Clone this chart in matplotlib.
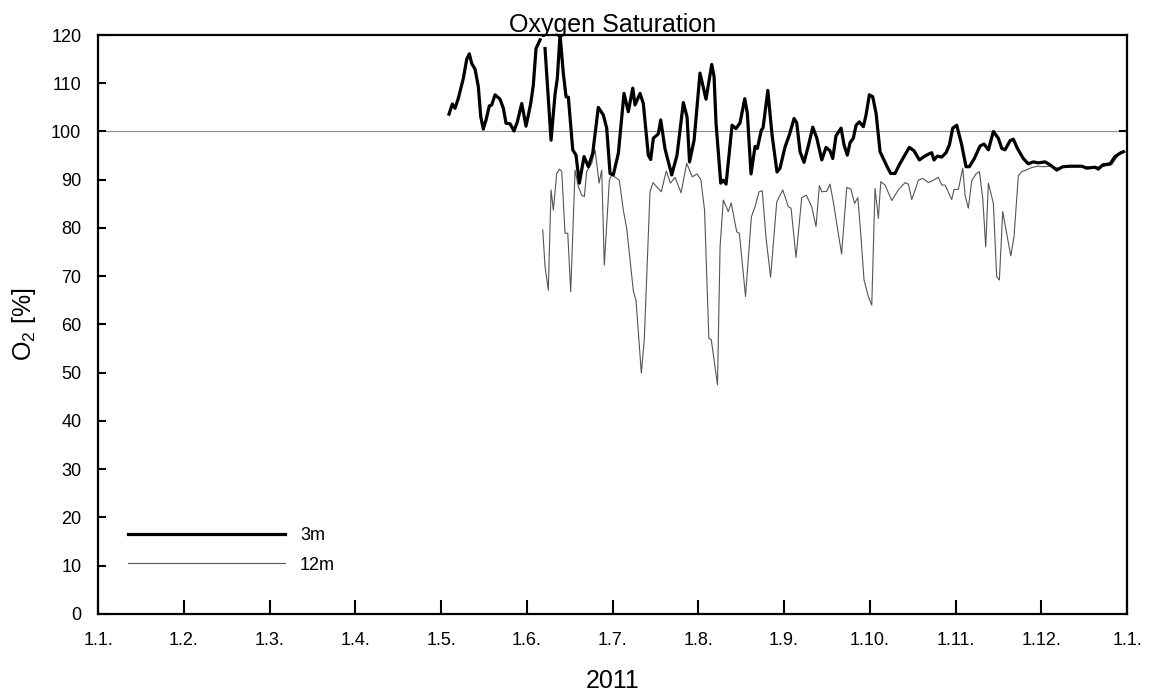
import numpy as np
import matplotlib
matplotlib.use("Agg")
import matplotlib.pyplot as plt
from matplotlib.lines import Line2D

plt.rcParams['font.family'] = ['Liberation Sans', 'DejaVu Sans']
plt.rcParams['mathtext.default'] = 'regular'

# x positions are in months after 1 Jan 2011 (axis has equal month spacing)
month_labels = ['1.1.', '1.2.', '1.3.', '1.4.', '1.5.', '1.6.', '1.7.',
                '1.8.', '1.9.', '1.10.', '1.11.', '1.12.', '1.1.']

t_3m = [4.093, 4.132, 4.163, 4.202, 4.260, 4.300, 4.330, 4.358, 4.397, 4.435,
        4.463, 4.493, 4.525, 4.563, 4.591, 4.630, 4.688, 4.727, 4.758, 4.805,
        4.851, 4.890, 4.941, 4.991, 5.046, 5.076, 5.108, 5.155, 5.18, 5.213,
        5.283, 5.329, 5.356, 5.388, 5.426, 5.458, 5.485, 5.536, 5.574, 5.613,
        5.668, 5.718, 5.769, 5.834, 5.893, 5.932, 5.971, 6.009, 6.068, 6.134,
        6.184, 6.236, 6.262, 6.321, 6.359, 6.417, 6.445, 6.476, 6.534, 6.562,
        6.612, 6.690, 6.752, 6.826, 6.869, 6.898, 6.951, 7.020, 7.090, 7.157,
        7.184, 7.207, 7.262, 7.292, 7.324, 7.394, 7.440, 7.487, 7.542, 7.572,
        7.615, 7.662, 7.689, 7.735, 7.755, 7.811, 7.860, 7.918, 7.953, 8.012,
        8.062, 8.117, 8.148, 8.187, 8.233, 8.283, 8.335, 8.381, 8.440, 8.490,
        8.536, 8.568, 8.606, 8.665, 8.700, 8.738, 8.770, 8.808, 8.840, 8.878,
        8.925, 8.956, 8.995, 9.034, 9.073, 9.120, 9.205, 9.244, 9.294, 9.353,
        9.399, 9.461, 9.516, 9.578, 9.633, 9.683, 9.722, 9.749, 9.788, 9.839,
        9.889, 9.928, 9.967, 10.014, 10.072, 10.122, 10.161, 10.219, 10.286, 10.332,
        10.383, 10.441, 10.499, 10.539, 10.577, 10.636, 10.674, 10.721, 10.790, 10.849,
        10.907, 10.966, 11.044, 11.102, 11.180, 11.250, 11.335, 11.472, 11.530, 11.627,
        11.665, 11.717, 11.802, 11.860, 11.918, 11.957]
o2_3m = [103.6, 105.7, 104.8, 106.9, 111.0, 115.0, 116.1, 114.1, 112.9, 109.3,
         103.1, 100.5, 102.4, 105.3, 105.5, 107.6, 106.7, 104.8, 101.7, 101.6,
         100.1, 102.0, 105.8, 101.1, 105.8, 109.6, 117.2, 119.0, np.nan, 117.2,
         98.2, 107.6, 111.0, 120.0, 112.1, 107.2, 107.1, 96.2, 95.1, 89.3,
         94.8, 92.7, 95.5, 105.0, 103.4, 100.7, 91.3, 91.0, 95.5, 107.9,
         104.1, 109.0, 105.5, 107.9, 105.8, 95.1, 94.2, 98.6, 99.5, 102.4,
         96.4, 91.0, 95.1, 106.0, 103.0, 93.7, 98.2, 112.1, 106.7, 113.9,
         111.4, 101.7, 89.3, 89.9, 89.1, 101.3, 100.6, 101.8, 106.8, 103.8,
         91.2, 96.9, 96.5, 100.3, 100.7, 108.5, 99.3, 91.6, 92.4, 96.8,
         99.3, 102.7, 101.8, 95.8, 93.6, 97.0, 100.9, 98.7, 94.1, 96.7,
         96.0, 94.4, 99.1, 100.7, 97.2, 95.1, 97.7, 98.6, 101.3, 102.0,
         101.0, 103.4, 107.6, 107.2, 103.8, 95.8, 92.6, 91.3, 91.3, 93.4,
         94.8, 96.7, 96.0, 94.1, 94.8, 95.3, 95.6, 94.1, 94.9, 94.7,
         95.6, 97.2, 100.7, 101.3, 97.2, 92.7, 92.7, 94.4, 97.0, 97.4,
         96.2, 100.0, 98.6, 96.5, 96.2, 98.1, 98.4, 96.5, 94.4, 93.3,
         93.7, 93.5, 93.7, 93.1, 92.0, 92.7, 92.8, 92.8, 92.4, 92.6,
         92.2, 93.1, 93.3, 94.8, 95.5, 95.8]

t_12m = [5.186, 5.213, 5.251, 5.283, 5.310, 5.349, 5.380, 5.408, 5.446, 5.478,
         5.512, 5.563, 5.601, 5.641, 5.671, 5.699, 5.757, 5.796, 5.843, 5.874,
         5.904, 5.963, 5.991, 6.049, 6.079, 6.126, 6.166, 6.243, 6.274, 6.336,
         6.370, 6.437, 6.472, 6.568, 6.627, 6.676, 6.729, 6.799, 6.865, 6.930,
         6.985, 7.030, 7.073, 7.123, 7.151, 7.224, 7.254, 7.292, 7.350, 7.384,
         7.448, 7.479, 7.551, 7.619, 7.662, 7.708, 7.746, 7.790, 7.843, 7.915,
         7.985, 8.050, 8.082, 8.140, 8.206, 8.260, 8.323, 8.373, 8.412, 8.440,
         8.498, 8.536, 8.575, 8.671, 8.731, 8.779, 8.822, 8.861, 8.894, 8.933,
         8.983, 9.023, 9.061, 9.100, 9.128, 9.178, 9.256, 9.333, 9.411, 9.450,
         9.489, 9.539, 9.566, 9.617, 9.683, 9.741, 9.799, 9.839, 9.878, 9.955,
         9.983, 10.033, 10.084, 10.111, 10.149, 10.189, 10.239, 10.278, 10.317, 10.352,
         10.383, 10.441, 10.480, 10.511, 10.550, 10.644, 10.682, 10.732, 10.772, 10.810,
         10.869, 10.947, 11.024, 11.102, 11.199, 11.297, 11.452, 11.607, 11.705, 11.821,
         11.898, 11.977]
o2_12m = [79.6, 72.0, 67.1, 87.9, 83.7, 91.3, 92.2, 91.7, 78.9, 78.9,
          66.8, 92.0, 88.6, 86.8, 86.5, 91.7, 93.4, 96.2, 89.3, 92.0,
          72.3, 89.9, 91.0, 90.3, 89.9, 83.7, 79.8, 66.9, 65.0, 49.9,
          56.8, 87.5, 89.4, 87.5, 91.8, 89.3, 90.5, 87.3, 93.4, 90.6,
          91.2, 90.0, 83.7, 57.1, 56.9, 47.5, 76.1, 85.8, 83.4, 85.2,
          79.2, 78.9, 65.8, 82.3, 84.4, 87.5, 87.7, 78.0, 69.8, 85.4,
          87.9, 84.4, 84.1, 73.9, 86.3, 86.8, 84.4, 80.3, 88.8, 87.5,
          87.6, 89.1, 85.4, 74.6, 88.4, 88.1, 85.1, 86.3, 78.9, 69.2,
          65.8, 64.0, 88.2, 82.0, 89.6, 88.9, 85.7, 87.9, 89.4, 89.1,
          85.9, 88.4, 89.9, 90.3, 89.4, 89.9, 90.5, 88.9, 88.9, 85.9,
          88.0, 88.0, 92.4, 86.8, 84.1, 89.8, 91.2, 91.7, 86.2, 76.1,
          89.3, 85.1, 69.9, 69.2, 83.4, 74.2, 78.2, 90.8, 91.7, 91.9,
          92.4, 92.8, 92.7, 92.8, 92.4, 92.8, 92.8, 92.6, 92.7, 93.1,
          95.1, 95.8]

fig = plt.figure(figsize=(11.49, 7.0), dpi=100)
ax = fig.add_axes([0.0853, 0.1229, 0.8956, 0.8271])

ax.axhline(100, color='#8a8a8a', lw=0.8, zorder=1)
ax.plot(t_12m, o2_12m, color='#555555', lw=0.8, zorder=2)
ax.plot(t_3m, o2_3m, color='black', lw=2.3, zorder=3)

ax.set_xlim(0, 12)
ax.set_ylim(0, 120)
ax.set_xticks(range(13))
ax.set_xticklabels(month_labels)
ax.set_yticks(range(0, 121, 10))

for s in ax.spines.values():
    s.set_linewidth(1.6)
ax.tick_params(axis='x', direction='in', length=10, width=1.5, pad=13, labelsize=13)
ax.tick_params(axis='y', direction='in', length=5.5, width=1.5, pad=12, labelsize=13)

# single tick on the right spine at the 100 % line
ax2 = ax.twinx()
ax2.set_ylim(0, 120)
ax2.set_yticks([100])
ax2.tick_params(axis='y', direction='in', length=5.5, width=1.5, labelright=False)
for s in ax2.spines.values():
    s.set_visible(False)

ax.set_ylabel('O$_2$ [%]', fontsize=18)
ax.yaxis.set_label_coords(-0.058, 0.5)
ax.set_xlabel('2011', fontsize=18)
ax.xaxis.set_label_coords(0.5, -0.095)

ax.text(0.5, 1.005, 'Oxygen Saturation', transform=ax.transAxes,
        ha='center', va='baseline', fontsize=18)

handles = [Line2D([], [], color='black', lw=2.3),
           Line2D([], [], color='#555555', lw=0.8)]
ax.legend(handles, ['3m', '12m'], loc='upper left', bbox_to_anchor=(0.029, 0.150),
          frameon=False, fontsize=13, handlelength=8.7, handletextpad=0.83,
          labelspacing=0.7, borderpad=0, borderaxespad=0)

fig.savefig('out.png', dpi=100)
